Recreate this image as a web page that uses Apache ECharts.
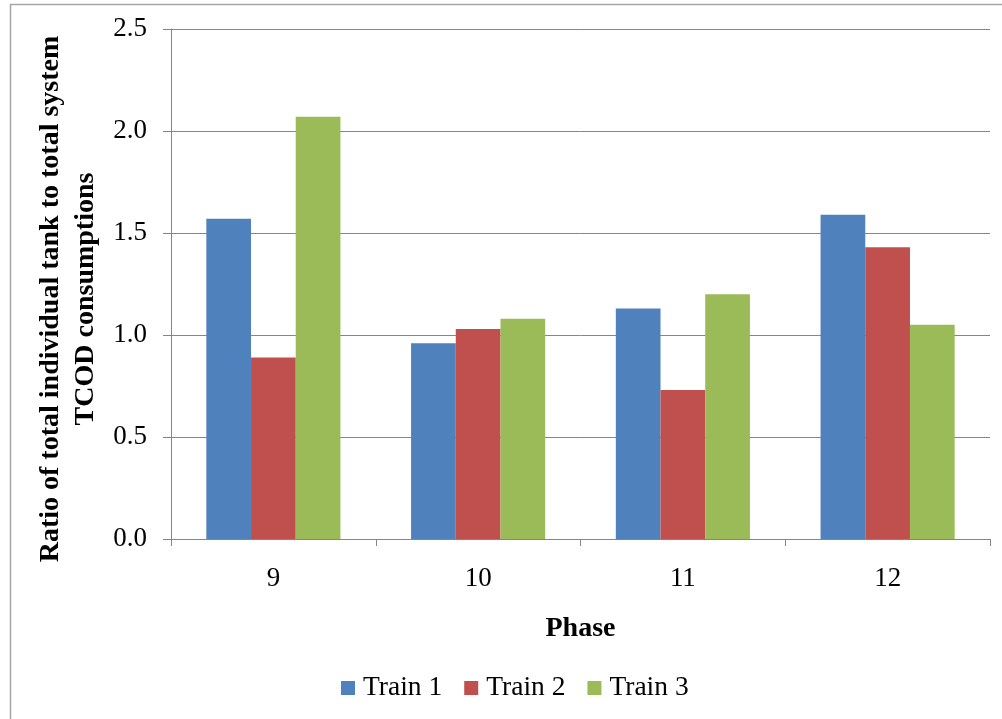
<!DOCTYPE html>
<html>
<head>
<meta charset="utf-8">
<script src="https://cdn.jsdelivr.net/npm/echarts@6/dist/echarts.min.js"></script>
<style>
html,body{margin:0;padding:0;background:#fff;}
#chart{width:1002px;height:719px;}
</style>
</head>
<body>
<div id="chart"></div>
<script>
const categories = ['9', '10', '11', '12'];
const train1 = [1.57, 0.96, 1.13, 1.59];
const train2 = [0.89, 1.03, 0.73, 1.43];
const train3 = [2.07, 1.08, 1.20, 1.05];
const seriesNames = ['Train 1', 'Train 2', 'Train 3'];
const yTitle = 'Ratio of total individual tank to total system\nTCOD consumptions';
const xTitle = 'Phase';

const colors = ['#4F81BD', '#C0504D', '#9BBB59'];
const serif = '"Liberation Serif", "Times New Roman", serif';
const chart = echarts.init(document.getElementById('chart'));
const data = [train1, train2, train3];

chart.setOption({
  animation: false,
  backgroundColor: '#fff',
  color: colors,
  grid: { left: 171, right: 12, top: 29, bottom: 180, containLabel: false },
  legend: {
    data: seriesNames,
    bottom: 12,
    left: 336,
    itemWidth: 14,
    itemHeight: 14,
    itemGap: 22,
    icon: 'rect',
    textStyle: { fontFamily: serif, fontSize: 27.5, color: '#000', padding: [0, 0, 0, 3] }
  },
  xAxis: {
    type: 'category',
    data: categories,
    axisLine: { lineStyle: { color: '#868686', width: 1 } },
    axisTick: { show: true, length: 7, lineStyle: { color: '#868686' } },
    axisLabel: { fontFamily: serif, fontSize: 27, color: '#000', margin: 26 },
    name: xTitle,
    nameLocation: 'middle',
    nameGap: 76,
    nameTextStyle: { fontFamily: serif, fontSize: 28, fontWeight: 'bold', color: '#000' }
  },
  yAxis: {
    type: 'value',
    min: 0,
    max: 2.5,
    interval: 0.5,
    axisLine: { show: true, lineStyle: { color: '#868686', width: 1 } },
    axisTick: { show: true, length: 8, lineStyle: { color: '#868686' } },
    splitLine: { lineStyle: { color: '#868686', width: 1 } },
    axisLabel: {
      fontFamily: serif, fontSize: 27, color: '#000', margin: 24,
      formatter: v => v.toFixed(1)
    }
  },
  graphic: [
    {
      type: 'rect',
      shape: { x: 10.5, y: 4.5, width: 1010, height: 730 },
      style: { fill: null, stroke: '#a6a6a6', lineWidth: 1.5 },
      silent: true
    },
    {
      type: 'text',
      x: 68,
      y: 299,
      rotation: Math.PI / 2,
      style: {
        text: yTitle,
        fontFamily: serif,
        fontSize: 28,
        fontWeight: 'bold',
        fill: '#000',
        align: 'center',
        verticalAlign: 'middle',
        lineHeight: 35
      }
    }
  ],
  series: seriesNames.map((n, i) => ({
    name: n,
    type: 'bar',
    data: data[i],
    barGap: '0%',
    barCategoryGap: '34.5%',
    itemStyle: { color: colors[i] }
  }))
});
</script>
</body>
</html>
